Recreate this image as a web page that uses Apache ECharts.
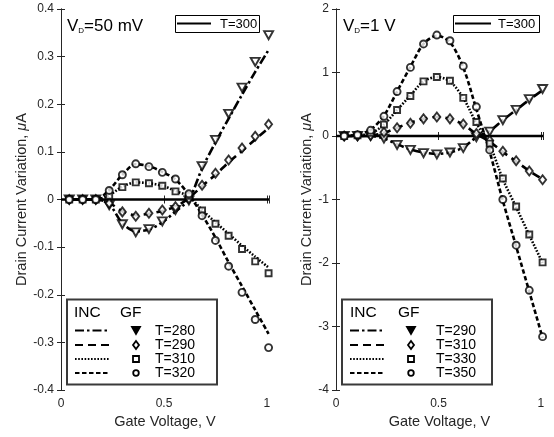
<!DOCTYPE html>
<html>
<head>
<meta charset="utf-8">
<script src="https://cdn.jsdelivr.net/npm/echarts@6/dist/echarts.min.js"></script>
<style>html,body{margin:0;padding:0;background:#fff}#c{width:554px;height:437px}</style>
</head>
<body>
<div id="c"></div>
<script>
// Gate voltage sample points (V)
const gateV = [0.04, 0.105, 0.169, 0.234, 0.298, 0.363, 0.427, 0.492, 0.556, 0.621, 0.685, 0.75, 0.814, 0.879, 0.943, 1.008];
const refX = [0, 1.01];
const refY = [0, 0];
const xTicks = [0, 0.5, 1];

// Left panel: VD = 50 mV — GF markers
const gfL280 = [0, 0, 0, -0.012, -0.052, -0.069, -0.062, -0.046, -0.022, -0.002, 0.07, 0.125, 0.18, 0.235, 0.289, 0.345];
const gfL290 = [0, 0, 0, -0.008, -0.026, -0.035, -0.029, -0.022, -0.015, 0.002, 0.03, 0.055, 0.083, 0.108, 0.133, 0.158];
const gfL310 = [0, 0, 0, 0.008, 0.026, 0.036, 0.034, 0.029, 0.017, 0.008, -0.023, -0.051, -0.076, -0.104, -0.13, -0.155];
const gfL320 = [0, 0, 0, 0.019, 0.052, 0.075, 0.069, 0.057, 0.043, 0.012, -0.034, -0.086, -0.14, -0.195, -0.252, -0.311];
// Left panel — INC lines
const incL280 = [0, 0, 0, -0.01, -0.05, -0.067, -0.063, -0.048, -0.025, 0.0, 0.065, 0.12, 0.17, 0.22, 0.268, 0.314];
const incL290 = [0, 0, 0, -0.007, -0.025, -0.033, -0.03, -0.024, -0.015, 0.003, 0.028, 0.052, 0.078, 0.102, 0.126, 0.15];
const incL310 = [0, 0, 0, 0.009, 0.027, 0.036, 0.034, 0.029, 0.018, 0.006, -0.022, -0.048, -0.072, -0.097, -0.12, -0.143];
const incL320 = [0, 0, 0, 0.02, 0.052, 0.074, 0.07, 0.058, 0.042, 0.01, -0.032, -0.08, -0.132, -0.182, -0.232, -0.282];

// Right panel: VD = 1 V — GF markers
const gfR290 = [0, 0, 0, -0.04, -0.14, -0.22, -0.27, -0.29, -0.26, -0.19, -0.02, 0.07, 0.25, 0.41, 0.58, 0.74];
const gfR310 = [0, 0, 0.01, 0.06, 0.13, 0.2, 0.27, 0.3, 0.27, 0.19, 0.04, -0.07, -0.24, -0.39, -0.55, -0.69];
const gfR330 = [0, 0.01, 0.05, 0.18, 0.41, 0.63, 0.86, 0.93, 0.87, 0.6, 0.22, -0.12, -0.67, -1.11, -1.55, -1.99];
const gfR350 = [0, 0.02, 0.09, 0.31, 0.7, 1.08, 1.45, 1.59, 1.5, 1.1, 0.46, -0.22, -1.0, -1.72, -2.43, -3.16];
// Right panel — INC lines
const incR290 = [0, 0, 0, -0.04, -0.13, -0.21, -0.26, -0.28, -0.26, -0.18, -0.02, 0.08, 0.25, 0.41, 0.57, 0.72];
const incR310 = [0, 0, 0.01, 0.05, 0.13, 0.21, 0.27, 0.3, 0.27, 0.18, 0.03, -0.09, -0.25, -0.4, -0.55, -0.68];
const incR330 = [0, 0.01, 0.04, 0.18, 0.41, 0.64, 0.86, 0.93, 0.86, 0.6, 0.2, -0.14, -0.68, -1.12, -1.56, -2.0];
const incR350 = [0, 0.02, 0.1, 0.32, 0.7, 1.09, 1.45, 1.58, 1.48, 1.08, 0.42, -0.25, -1.02, -1.74, -2.45, -3.18];

const leftLabels = ['T=280', 'T=290', 'T=310', 'T=320'];
const rightLabels = ['T=290', 'T=310', 'T=330', 'T=350'];
const refLabel = 'T=300';

const FONT = 'Liberation Sans, Arial, Helvetica, sans-serif';
const AX = '#262626';
const dashes = [[9, 3, 2.5, 3], [8, 5], [1.6, 1.6], [4.5, 2.5]];
const symbols = [
  { symbol: 'triangle', size: [9, 8], rotate: 180 },
  { symbol: 'diamond', size: [7, 9], rotate: 0 },
  { symbol: 'rect', size: [6, 6], rotate: 0 },
  { symbol: 'circle', size: [7, 7], rotate: 0 }
];
const pair = (ys) => gateV.map((x, i) => [x, ys[i]]);

function axesFor(gi, ymin, ymax, yint, nameGap) {
  const base = {
    gridIndex: gi, min: 0, max: 1.01, interval: 0.5, type: 'value',
    axisLine: { lineStyle: { color: AX, width: 1 } },
    axisTick: { inside: true, length: 4, lineStyle: { color: AX } },
    splitLine: { show: false }
  };
  const xb = Object.assign({}, base, {
    position: 'bottom',
    axisLabel: {
      margin: 8, color: AX, fontSize: 12, fontFamily: FONT,
      formatter: v => (xTicks.some(t => Math.abs(t - v) < 1e-6) ? String(v) : '')
    },
    name: 'Gate Voltage, V', nameLocation: 'middle', nameGap: 13,
    nameTextStyle: { color: AX, fontSize: 14.5, fontFamily: FONT }
  });
  const xt = Object.assign({}, base, { position: 'top', axisLabel: { show: false } });
  const ybase = {
    gridIndex: gi, min: ymin, max: ymax, interval: yint, type: 'value',
    axisLine: { lineStyle: { color: AX, width: 1 } },
    axisTick: { inside: true, length: 4, lineStyle: { color: AX } },
    splitLine: { show: false }
  };
  const yl = Object.assign({}, ybase, {
    position: 'left',
    axisLabel: { margin: 7, color: AX, fontSize: 12, fontFamily: FONT },
    name: 'Drain Current Variation, {i|\u03bc}A', nameLocation: 'middle', nameGap: nameGap,
    nameTextStyle: { color: AX, fontSize: 14.5, fontFamily: FONT,
      rich: { i: { fontStyle: 'italic', fontSize: 14.5, fontFamily: FONT, color: AX } } }
  });
  const yr = Object.assign({}, ybase, { position: 'right', axisLabel: { show: false } });
  return { x: [xb, xt], y: [yl, yr] };
}

const axL = axesFor(0, -0.4, 0.4, 0.1, 30);
const axR = axesFor(1, -4, 2, 1, 21);

function panelSeries(xi, yi, incs, gfs) {
  const out = [];
  out.push({
    type: 'line', xAxisIndex: xi, yAxisIndex: yi, data: refX.map((x, i) => [x, refY[i]]),
    showSymbol: false, lineStyle: { color: '#000', width: 2.6 }, z: 2, silent: true
  });
  incs.forEach((ys, k) => {
    out.push({
      type: 'line', xAxisIndex: xi, yAxisIndex: yi, data: pair(ys), smooth: 0.3,
      showSymbol: false, clip: false,
      lineStyle: { color: '#000', width: 2.6, type: dashes[k] }, z: 3, silent: true
    });
  });
  gfs.forEach((ys, k) => {
    out.push({
      type: 'scatter', xAxisIndex: xi, yAxisIndex: yi, data: pair(ys), clip: false,
      symbol: symbols[k].symbol, symbolSize: symbols[k].size, symbolRotate: symbols[k].rotate,
      itemStyle: { color: '#fff', borderColor: '#000', borderWidth: 1.9 }, z: 4, silent: true
    });
  });
  return out;
}

function legendGraphics(bx, by, lineX1, lineX2, mx, tx, labels, incX, gfX) {
  const g = [];
  g.push({ type: 'rect', shape: { x: bx, y: by, width: 150, height: 85 },
    style: { fill: '#fff', stroke: '#3a3a3a', lineWidth: 2 }, z: 100 });
  g.push({ type: 'text', x: incX, y: by + 13.5, z: 101,
    style: { text: 'INC', fontSize: 15.5, fontFamily: FONT, fill: '#000', verticalAlign: 'middle' } });
  g.push({ type: 'text', x: gfX, y: by + 13.5, z: 101,
    style: { text: 'GF', fontSize: 15.5, fontFamily: FONT, fill: '#000', verticalAlign: 'middle' } });
  const rows = [31, 45.5, 59.5, 73.5];
  rows.forEach((dy, k) => {
    const y = by + dy;
    g.push({ type: 'line', shape: { x1: lineX1, y1: y, x2: lineX2, y2: y }, z: 101,
      style: { stroke: '#000', lineWidth: 2, lineDash: dashes[k] } });
    let shape;
    if (k === 0) shape = { type: 'polygon', shape: { points: [[mx - 4, y - 3.5], [mx + 4, y - 3.5], [mx, y + 3.5]] } };
    else if (k === 1) shape = { type: 'polygon', shape: { points: [[mx, y - 4], [mx + 3, y], [mx, y + 4], [mx - 3, y]] } };
    else if (k === 2) shape = { type: 'rect', shape: { x: mx - 3, y: y - 3, width: 6, height: 6 } };
    else shape = { type: 'circle', shape: { cx: mx, cy: y, r: 2.8 } };
    shape.style = { fill: k === 0 ? '#000' : '#fff', stroke: '#000', lineWidth: 1.8 };
    shape.z = 101;
    g.push(shape);
    g.push({ type: 'text', x: tx, y: y + 0.5, z: 101,
      style: { text: labels[k], fontSize: 14, fontFamily: FONT, fill: '#000', verticalAlign: 'middle' } });
  });
  return g;
}

function refBox(bx, by, w, l1, l2, tx) {
  return [
    { type: 'rect', shape: { x: bx, y: by, width: w, height: 17 },
      style: { fill: '#fff', stroke: '#000', lineWidth: 1 }, z: 100 },
    { type: 'line', shape: { x1: l1, y1: by + 8, x2: l2, y2: by + 8 }, z: 101,
      style: { stroke: '#000', lineWidth: 2 } },
    { type: 'text', x: tx, y: by + 8.5, z: 101,
      style: { text: refLabel, fontSize: 13, fontFamily: FONT, fill: '#000', verticalAlign: 'middle' } }
  ];
}

function title(x, y, rest) {
  return { type: 'text', x: x, y: y, z: 101,
    style: { text: '{v|V}{s|D}{v|' + rest + '}', fontFamily: FONT, fill: '#000', verticalAlign: 'middle',
      rich: {
        v: { fontSize: 17, fontFamily: FONT, fill: '#000', lineHeight: 20, verticalAlign: 'bottom' },
        s: { fontSize: 8, fontFamily: FONT, fill: '#000', lineHeight: 12, verticalAlign: 'bottom', padding: [0, 0, 0, 0] }
      } } };
}

const chart = echarts.init(document.getElementById('c'), null, { renderer: 'canvas' });
chart.setOption({
  animation: false,
  backgroundColor: '#fff',
  grid: [
    { left: 61, top: 9, width: 208, height: 381 },
    { left: 336, top: 9, width: 207, height: 381 }
  ],
  xAxis: [axL.x[0], axL.x[1], axR.x[0], axR.x[1]],
  yAxis: [axL.y[0], axL.y[1], axR.y[0], axR.y[1]],
  series: [].concat(
    panelSeries(0, 0, [incL280, incL290, incL310, incL320], [gfL280, gfL290, gfL310, gfL320]),
    panelSeries(2, 2, [incR290, incR310, incR330, incR350], [gfR290, gfR310, gfR330, gfR350])
  ),
  graphic: [].concat(
    [title(67, 24.5, '=50 mV'), title(343, 24.5, '=1 V')],
    refBox(175.5, 15.5, 84, 177, 211, 220),
    refBox(453.5, 15.5, 86, 455, 491, 498),
    legendGraphics(67, 299.5, 75, 110, 136, 155, leftLabels, 74, 120),
    legendGraphics(342, 299.5, 350, 385, 411, 436, rightLabels, 350, 398)
  )
});
</script>
</body>
</html>
